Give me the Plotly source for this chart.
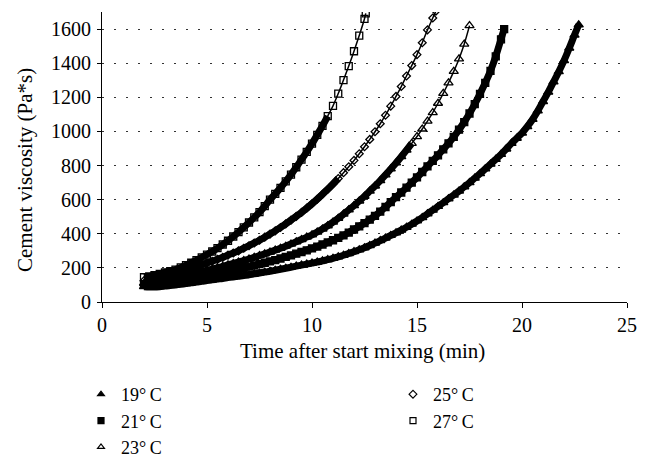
import plotly.graph_objects as go

# Time after start mixing (min) - shared reading grid
time_min = [2.0, 2.25, 2.5, 2.75, 3.0, 3.25, 3.5, 3.75, 4.0, 4.25, 4.5, 4.75, 5.0, 5.25, 5.5, 5.75,
            6.0, 6.25, 6.5, 6.75, 7.0, 7.25, 7.5, 7.75, 8.0, 8.25, 8.5, 8.75, 9.0, 9.25, 9.5, 9.75,
            10.0, 10.25, 10.5, 10.75, 11.0, 11.25, 11.5, 11.75, 12.0, 12.25, 12.5, 12.75, 13.0, 13.25,
            13.5, 13.75, 14.0, 14.25, 14.5, 14.75, 15.0, 15.25, 15.5, 15.75, 16.0, 16.25, 16.5, 16.75,
            17.0, 17.25, 17.5, 17.75, 18.0, 18.25, 18.5, 18.75, 19.0, 19.25, 19.5, 19.75, 20.0, 20.25,
            20.5, 20.75, 21.0, 21.25, 21.5, 21.75, 22.0, 22.25, 22.5]

# Cement viscosity (Pa*s) readings per temperature
visc_19 = [90, 88, 88, 90, 93, 96, 100, 104, 108, 112, 117, 121, 126, 130, 134, 138, 143, 147, 151, 155,
           160, 165, 170, 175, 180, 186, 192, 198, 204, 210, 216, 222, 228, 234, 241, 248, 256, 265, 274, 284,
           295, 306, 318, 331, 345, 360, 375, 390, 405, 421, 438, 456, 475, 495, 517, 538, 560, 582, 605, 627,
           650, 675, 700, 726, 752, 780, 808, 836, 865, 897, 930, 960, 990, 1028, 1070, 1120, 1175, 1230,
           1290, 1350, 1415, 1488, 1565]
end_19 = (22.7, 1625)

visc_21 = [100, 101, 103, 108, 113, 118, 123, 128, 133, 138, 143, 148, 154, 160, 167, 173, 180, 186, 193, 200,
           207, 214, 222, 230, 238, 246, 255, 264, 273, 283, 293, 303, 314, 325, 337, 349, 362, 376, 390, 407,
           425, 443, 462, 483, 505, 530, 557, 586, 615, 642, 670, 700, 730, 762, 795, 827, 860, 895, 930, 968,
           1010, 1055, 1105, 1160, 1220, 1285, 1355, 1440, 1540]
end_21 = (19.15, 1600)

visc_23 = [110, 113, 118, 125, 132, 139, 146, 152, 158, 165, 172, 179, 186, 193, 201, 209, 218, 226, 234, 243,
           252, 262, 272, 282, 293, 304, 315, 327, 340, 353, 366, 380, 394, 410, 428, 447, 468, 491, 515, 540,
           565, 592, 620, 650, 680, 712, 745, 780, 815, 852, 890, 930, 970, 1014, 1060, 1110, 1165, 1223,
           1285, 1352, 1425, 1512]
end_23 = (17.5, 1620)

visc_25 = [125, 128, 134, 142, 152, 161, 171, 181, 190, 199, 208, 218, 228, 239, 250, 262, 275, 287, 300, 315,
           330, 346, 362, 380, 398, 417, 437, 458, 480, 502, 525, 550, 576, 603, 632, 661, 692, 724, 758, 793,
           830, 869, 910, 953, 998, 1045, 1095, 1148, 1205, 1263, 1325, 1386, 1450, 1520, 1595, 1665]
end_25 = (15.9, 1705)

visc_27 = [145, 150, 158, 165, 173, 181, 190, 203, 216, 230, 245, 261, 278, 296, 316, 337, 359, 384, 410, 437,
           466, 496, 527, 562, 600, 634, 669, 707, 747, 790, 835, 880, 928, 980, 1033, 1090, 1150, 1222, 1301,
           1383, 1470, 1562, 1660]
end_27 = (12.56, 1692)

labels = ["19°\u2009C", "21°\u2009C", "23°\u2009C", "25°\u2009C", "27°\u2009C"]
y_ticks = [0, 200, 400, 600, 800, 1000, 1200, 1400, 1600]
x_ticks = [0, 5, 10, 15, 20, 25]

# style: symbol, marker size, viscosity up to which the markers merge into a solid band
series = {
    labels[0]: (visc_19, end_19, "triangle-up", 8, 1e9),
    labels[1]: (visc_21, end_21, "square", 7, 1e9),
    labels[2]: (visc_23, end_23, "triangle-up-open", 8, 950),
    labels[3]: (visc_25, end_25, "diamond-open", 6, 750),
    labels[4]: (visc_27, end_27, "square-open", 7, 1100),
}

FONT = "Liberation Serif"
fig = go.Figure()
for name in labels:
    vals, end, sym, size, solid_to = series[name]
    xs = time_min[:len(vals)] + [end[0]]
    ys = vals + [end[1]]
    bx = [x for x, y in zip(xs, ys) if y <= solid_to]
    by = [y for y in ys if y <= solid_to]
    # merged (solid) part of the marker chain
    fig.add_trace(go.Scatter(x=bx, y=by, mode="lines", showlegend=False, hoverinfo="skip",
                             line=dict(color="black", width=7, shape="spline")))
    # thin connecting line through the whole chain
    fig.add_trace(go.Scatter(x=xs, y=ys, mode="lines", showlegend=False, hoverinfo="skip",
                             line=dict(color="black", width=1.5, shape="spline")))
    fig.add_trace(go.Scatter(
        x=xs, y=ys, name=name, mode="markers", showlegend=False,
        marker=dict(symbol=sym, size=size, color="black", line=dict(color="black", width=1.3)),
    ))
# legend entries (small symbols); row-wise fill gives columns 19/21/23 and 25/27
for name in [labels[0], labels[3], labels[1], labels[4], labels[2]]:
    sym = series[name][2]
    fig.add_trace(go.Scatter(
        x=[None], y=[None], name=name, mode="markers",
        marker=dict(symbol=sym, size=6, color="black", line=dict(color="black", width=1.2)),
    ))

fig.update_layout(
    width=647, height=461,
    margin=dict(l=102, r=20, t=12, b=159, autoexpand=False),
    paper_bgcolor="white", plot_bgcolor="white",
    font=dict(family=FONT, size=20, color="black"),
    showlegend=True,
    legend=dict(
        orientation="h", x=-0.04, xanchor="left", y=-0.255, yanchor="top",
        entrywidth=267, entrywidthmode="pixels",
        font=dict(family=FONT, size=18, color="black"),
        itemsizing="trace", tracegroupgap=0,
        bgcolor="rgba(0,0,0,0)",
    ),
    annotations=[
        dict(text="Time after start mixing (min)", xref="paper", yref="paper",
             x=(362 - 102) / 525, y=-(351 - 302) / 290, xanchor="center", yanchor="middle",
             showarrow=False, font=dict(family=FONT, size=21, color="black")),
        dict(text="Cement viscosity (Pa*s)", xref="paper", yref="paper", textangle=-90,
             x=-(102 - 25) / 525, y=(302 - 170) / 290, xanchor="center", yanchor="middle",
             showarrow=False, font=dict(family=FONT, size=21, color="black")),
    ],
)
fig.update_xaxes(
    range=[0, 25], tickvals=x_ticks, showgrid=False, zeroline=False,
    showline=True, linecolor="black", linewidth=1,
    ticks="outside", ticklen=5, tickcolor="black", tickfont=dict(size=20),
    ticklabelstandoff=0,
)
fig.update_yaxes(
    range=[0, 1700], tickvals=y_ticks, showgrid=True, gridcolor="#333",
    griddash="2px,10px", gridwidth=1, zeroline=False,
    showline=True, linecolor="black", linewidth=1,
    ticks="outside", ticklen=4, tickcolor="black", tickfont=dict(size=20),
    ticklabelstandoff=2,
)

fig.write_html("out.html")
